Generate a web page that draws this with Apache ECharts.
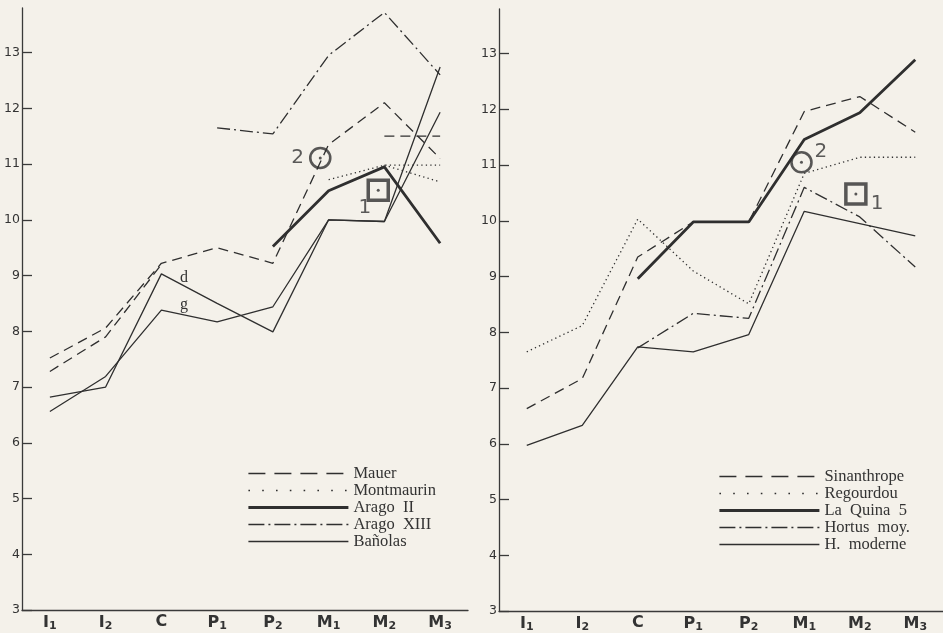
<!DOCTYPE html>
<html>
<head>
<meta charset="utf-8">
<script src="https://cdn.jsdelivr.net/npm/echarts@6/dist/echarts.min.js"></script>
<style>
html,body{margin:0;padding:0;background:#f4f1ea;}
#c{width:943px;height:633px;}
</style>
</head>
<body>
<div id="c"></div>
<script>
// ---- data ----
const categories = ['I1', 'I2', 'C', 'P1', 'P2', 'M1', 'M2', 'M3'];
const yTicks = [3, 4, 5, 6, 7, 8, 9, 10, 11, 12, 13];

// left chart
const mauer       = [7.52, 8.06, 9.22, 9.50, 9.22, 11.35, 12.10, 11.10];
const mauerB      = [7.28, 7.90, 9.20, null, null, null, null, null];
const mauerM3     = [null, null, null, null, null, null, 11.50, 11.50];
const montmaurin  = [null, null, null, null, null, 10.72, 10.98, 10.98];
const montmaurinB = [null, null, null, null, null, null, 10.98, 10.68];
const aragoII     = [null, null, null, null, 9.52, 10.52, 10.95, 9.58];
const aragoXIII   = [null, null, null, 11.65, 11.54, 12.95, 13.72, 12.60];
const banolasD    = [6.82, 7.00, 9.03, 8.50, 7.99, 10.00, 9.97, 12.74];
const banolasG    = [6.56, 7.19, 8.38, 8.17, 8.44, 10.00, 9.97, 11.93];
const leftCircle  = [[4.85, 11.11]];
const leftSquare  = [[5.89, 10.53]];

// right chart
const sinanthrope = [6.63, 7.17, 9.35, 9.98, 9.98, 11.96, 12.23, 11.59];
const regourdou   = [7.65, 8.12, 10.03, 9.10, 8.51, 10.85, 11.14, 11.14];
const laQuina     = [null, null, 8.96, 9.98, 9.98, 11.46, 11.94, 12.89];
const hortus      = [null, null, 7.72, 8.34, 8.25, 10.60, 10.07, 9.17];
const moderne     = [5.97, 6.33, 7.74, 7.65, 7.96, 10.17, 9.95, 9.73];
const rightCircle = [[4.95, 11.05]];
const rightSquare = [[5.93, 10.48]];

const leftNames  = ['Mauer', 'Montmaurin', 'Arago  II', 'Arago  XIII', 'Bañolas'];
const rightNames = ['Sinanthrope', 'Regourdou', 'La  Quina  5', 'Hortus  moy.', 'H.  moderne'];

// ---- styles ----
const INK = '#2f2f2f';
const DASH = [10, 6];
const DOT = [1.3, 3.2];
const DASHDOT = [13, 4, 2, 4];
const thin = 1.3, thick = 2.8;
// legend sample styles (by row)
const legendStyles = [
  { type: [17, 9], width: 1.3 },
  { type: [1.6, 12.2], width: 1.6 },
  { type: 'solid', width: thick },
  { type: [16, 4, 2, 4], width: 1.3 },
  { type: 'solid', width: 1.3 }
];

function line(name, data, idx, type, width) {
  return {
    name: name, type: 'line', data: data,
    xAxisIndex: idx, yAxisIndex: idx,
    symbol: 'none', connectNulls: false, silent: true,
    lineStyle: { color: INK, width: width, type: type },
    itemStyle: { color: INK },
    z: width > 2 ? 4 : 3
  };
}

function xCat(gridIndex) {
  return {
    type: 'category', gridIndex: gridIndex, data: categories, boundaryGap: true,
    axisLine: { onZero: false, lineStyle: { color: '#3a3a3a', width: 1.3 } },
    axisTick: { alignWithLabel: true, inside: true, length: 10, interval: 0, lineStyle: { color: '#3a3a3a', width: 1.3 } },
    axisLabel: {
      interval: 0, margin: 4, color: '#333', fontFamily: 'DejaVu Sans', fontWeight: 'bold', fontSize: 16,
      formatter: function (v) { return v.length === 2 ? v[0] + '{s|' + v[1] + '}' : v; },
      rich: { s: { fontSize: 11, fontWeight: 'bold', fontFamily: 'DejaVu Sans', color: '#333', padding: [7, 0, 0, 0] } }
    }
  };
}
function xVal(gridIndex) {
  return { type: 'value', gridIndex: gridIndex, min: -0.5, max: 7.5, show: false };
}
function yAx(gridIndex) {
  return {
    type: 'value', gridIndex: gridIndex, min: 3, max: 13.8, interval: 1,
    splitLine: { show: false },
    axisLine: { show: true, onZero: false, lineStyle: { color: '#3a3a3a', width: 1.3 } },
    axisTick: { show: true, inside: true, length: 10, customValues: yTicks, lineStyle: { color: '#3a3a3a', width: 1.3 } },
    axisLabel: { margin: 2, color: '#333', fontFamily: 'DejaVu Sans', fontSize: 12.5, customValues: yTicks }
  };
}

function marker(data, xIdx, yIdx, sym, size, bw, label, pos) {
  return [
    {
      type: 'scatter', data: data, xAxisIndex: xIdx, yAxisIndex: yIdx, symbol: sym, symbolSize: size, silent: true,
      itemStyle: { color: 'rgba(0,0,0,0)', borderColor: INK, borderWidth: bw },
      label: { show: true, formatter: label, position: pos, distance: 5, fontSize: 20, color: '#333', fontFamily: 'DejaVu Sans' },
      z: 6
    },
    {
      type: 'scatter', data: data, xAxisIndex: xIdx, yAxisIndex: yIdx, symbol: 'circle', symbolSize: 3, silent: true,
      itemStyle: { color: INK }, z: 7
    }
  ];
}

const legendText = { fontFamily: 'Liberation Serif', fontSize: 16.5, color: '#333' };
function legendData(names) {
  return names.map(function (n, i) {
    return { name: n, lineStyle: legendStyles[i] };
  });
}
const legendCommon = {
  orient: 'vertical', itemWidth: 100, itemHeight: 14, itemGap: 0, padding: 0,
  textStyle: legendText, selectedMode: false,
  itemStyle: { color: 'rgba(0,0,0,0)', borderWidth: 0, borderColor: 'rgba(0,0,0,0)' }
};

const option = {
  backgroundColor: '#f4f1ea',
  animation: false,
  grid: [
    { left: 22, top: 8, width: 446, bottom: 23 },
    { left: 499, top: 9, right: 0, bottom: 20 }
  ],
  xAxis: [xCat(0), xCat(1), xVal(0), xVal(1)],
  yAxis: [yAx(0), yAx(1)],
  legend: [
    Object.assign({ data: legendData(leftNames), left: 247, top: 465 }, legendCommon),
    Object.assign({ data: legendData(rightNames), left: 718, top: 468 }, legendCommon)
  ],
  graphic: [
    { type: 'text', left: 180, top: 270, style: { text: 'd', fontFamily: 'Liberation Serif', fontSize: 16, fill: '#333' } },
    { type: 'text', left: 180, top: 297, style: { text: 'g', fontFamily: 'Liberation Serif', fontSize: 16, fill: '#333' } }
  ],
  series: [
    line('Mauer', mauer, 0, DASH, thin),
    line('Mauer', mauerB, 0, DASH, thin),
    line('Mauer', mauerM3, 0, DASH, thin),
    line('Montmaurin', montmaurin, 0, DOT, thin),
    line('Montmaurin', montmaurinB, 0, DOT, thin),
    line('Arago  II', aragoII, 0, 'solid', thick),
    line('Arago  XIII', aragoXIII, 0, DASHDOT, thin),
    line('Bañolas', banolasD, 0, 'solid', thin),
    line('Bañolas', banolasG, 0, 'solid', thin),

    line('Sinanthrope', sinanthrope, 1, DASH, thin),
    line('Regourdou', regourdou, 1, DOT, thin),
    line('La  Quina  5', laQuina, 1, 'solid', thick),
    line('Hortus  moy.', hortus, 1, DASHDOT, thin),
    line('H.  moderne', moderne, 1, 'solid', thin)
  ]
    .concat(marker(leftCircle, 2, 0, 'circle', 20, 2.6, '2', 'left'))
    .concat(marker(leftSquare, 2, 0, 'rect', 20, 3.5, '', 'left'))
    .concat(marker(rightCircle, 3, 1, 'circle', 20, 2.6, '', 'left'))
    .concat(marker(rightSquare, 3, 1, 'rect', 20, 3.5, '', 'left'))
    .concat([
      { type: 'scatter', data: leftSquare, xAxisIndex: 2, yAxisIndex: 0, symbolSize: 0, silent: true,
        label: { show: true, formatter: '1', position: 'left', offset: [-2, 18], fontSize: 20, color: '#333', fontFamily: 'DejaVu Sans' } },
      { type: 'scatter', data: rightCircle, xAxisIndex: 3, yAxisIndex: 1, symbolSize: 0, silent: true,
        label: { show: true, formatter: '2', position: 'right', offset: [8, -10], fontSize: 20, color: '#333', fontFamily: 'DejaVu Sans' } },
      { type: 'scatter', data: rightSquare, xAxisIndex: 3, yAxisIndex: 1, symbolSize: 0, silent: true,
        label: { show: true, formatter: '1', position: 'right', offset: [10, 10], fontSize: 20, color: '#333', fontFamily: 'DejaVu Sans' } }
    ])
};

const chart = echarts.init(document.getElementById('c'), null, { renderer: 'canvas' });
chart.setOption(option);
</script>
</body>
</html>
